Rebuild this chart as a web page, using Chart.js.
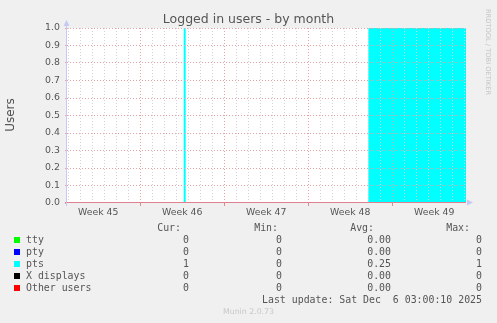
<!DOCTYPE html>
<html>
<head>
<meta charset="utf-8">
<script src="https://cdn.jsdelivr.net/npm/chart.js@4/dist/chart.umd.min.js"></script>
<style>
  body { margin: 0; background: #f0f0f0; }
  #wrap { position: relative; width: 497px; height: 323px; overflow: hidden; }
  #chart { position: absolute; left: 0; top: 0; }
  .t { position: absolute; white-space: pre; font-family: "DejaVu Sans", sans-serif; }
  .m { position: absolute; white-space: pre; font-family: "DejaVu Sans Mono", monospace; font-size: 9.9px; color: #555; line-height: 12px; }
  .r { text-align: right; }
  .sw { position: absolute; width: 6px; height: 6px; }
</style>
</head>
<body>
<div id="wrap">
  <canvas id="chart" width="497" height="323"></canvas>
  <div class="t" style="left:0;width:497px;top:11px;text-align:center;font-size:12.5px;color:#555;">Logged in users - by month</div>
  <div class="t" style="left:-10px;top:108px;width:40px;text-align:center;font-size:12px;color:#555;transform:rotate(-90deg);">Users</div>
  <div class="t" style="left:438px;top:48px;width:100px;text-align:center;font-size:6.7px;color:#c4c4c4;transform:rotate(90deg);">RRDTOOL / TOBI OETIKER</div>
  <div class="t" style="left:0;width:497px;top:307px;text-align:center;font-size:7.8px;color:#c8c8c8;">Munin 2.0.73</div>
  <div id="legend"></div>
</div>
<script>
// data (x = days relative to the start of week 46)
const weekLabels = ["Week 45", "Week 46", "Week 47", "Week 48", "Week 49"];
const weekLabelPos = [-3.5, 3.5, 10.5, 17.5, 24.5];
const timeDays = [-6.1, 3.625, 3.79, 19.01, 27.15];
const ttyValues = [0, 0, 0, 0, 0];
const ptyValues = [0, 0, 0, 0, 0];
const ptsValues = [0, 1, 0, 1, 1];
const xValues = [0, 0, 0, 0, 0];
const otherValues = [0, 0, 0, 0, 0];
const yTicks = [0, 0.1, 0.2, 0.3, 0.4, 0.5, 0.6, 0.7, 0.8, 0.9, 1.0];

// legend table
const seriesNames = ["tty", "pty", "pts", "X displays", "Other users"];
const curValues = ["0", "0", "1", "0", "0"];
const minValues = ["0", "0", "0", "0", "0"];
const avgValues = ["0.00", "0.00", "0.25", "0.00", "0.00"];
const maxValues = ["0", "0", "1", "0", "0"];
const lastUpdate = "Last update: Sat Dec  6 03:00:10 2025";

// styles
const seriesColors = ["#00ff00", "#0000ff", "#00ffff", "#000000", "#ff0000"];
const majorGrid = "#e6a3a3";
const minorGrid = "#d2d2d2";
const axisBlue = "#c8c8f4";
const zeroLine = "#e0808e";

const toPoints = (vals) => vals.map((v, i) => ({ x: timeDays[i], y: v }));
const seriesValues = [ttyValues, ptyValues, ptsValues, xValues, otherValues];

const backdrop = {
  id: "backdrop",
  beforeDraw(chart) {
    const { ctx, chartArea: a } = chart;
    ctx.save();
    ctx.fillStyle = "#ffffff";
    ctx.fillRect(a.left, a.top, a.right - a.left, a.bottom - a.top);
    ctx.restore();
  },
  afterDraw(chart) {
    const { ctx, chartArea: a } = chart;
    ctx.save();
    ctx.lineWidth = 1;
    // zero line
    ctx.strokeStyle = zeroLine;
    ctx.beginPath();
    ctx.moveTo(a.left - 2, a.bottom - 0.5);
    ctx.lineTo(a.right, a.bottom - 0.5);
    ctx.stroke();
    // y axis line and arrows
    ctx.fillStyle = axisBlue;
    ctx.strokeStyle = axisBlue;
    ctx.beginPath();
    ctx.moveTo(a.left - 0.5, a.bottom + 3);
    ctx.lineTo(a.left - 0.5, a.top - 3);
    ctx.stroke();
    ctx.beginPath();
    ctx.moveTo(a.left - 3.5, a.top - 2);
    ctx.lineTo(a.left + 2.5, a.top - 2);
    ctx.lineTo(a.left - 0.5, a.top - 8);
    ctx.closePath();
    ctx.fill();
    ctx.beginPath();
    ctx.moveTo(a.right + 1, a.bottom - 3.5);
    ctx.lineTo(a.right + 1, a.bottom + 2.5);
    ctx.lineTo(a.right + 7, a.bottom - 0.5);
    ctx.closePath();
    ctx.fill();
    ctx.restore();
  },
};

new Chart(document.getElementById("chart"), {
  type: "line",
  data: {
    datasets: seriesNames.map((name, i) => ({
      label: name,
      data: toPoints(seriesValues[i]),
      stepped: "before",
      fill: "origin",
      backgroundColor: seriesColors[i],
      borderColor: seriesColors[i],
      borderWidth: 0,
      pointRadius: 0,
    })),
  },
  options: {
    responsive: false,
    animation: false,
    layout: { padding: { top: 28, right: 31, bottom: 100, left: 0 } },
    plugins: { legend: { display: false }, tooltip: { enabled: false } },
    scales: {
      x: {
        type: "linear",
        min: timeDays[0],
        max: timeDays[timeDays.length - 1],
        afterBuildTicks: (scale) => {
          const ticks = [];
          for (let d = -6; d <= 27; d++) ticks.push({ value: d });
          weekLabelPos.forEach((p) => ticks.push({ value: p }));
          scale.ticks = ticks.sort((a, b) => a.value - b.value);
        },
        afterFit: (scale) => { scale.height = 20; },
        ticks: {
          autoSkip: false,
          maxRotation: 0,
          padding: 1,
          color: "#555",
          font: { family: "DejaVu Sans", size: 9.33 },
          callback: (v) => {
            const i = weekLabelPos.indexOf(v);
            return i >= 0 ? weekLabels[i] : "";
          },
        },
        grid: {
          z: 1,
          tickLength: 3,
          color: (c) => {
            const v = c.tick ? c.tick.value : 0;
            if (!Number.isInteger(v)) return "rgba(0,0,0,0)";
            return v % 7 === 0 ? majorGrid : minorGrid;
          },
          tickColor: (c) => {
            const v = c.tick ? c.tick.value : 1;
            return Number.isInteger(v) && v % 7 === 0 ? "#e08a8a" : "rgba(0,0,0,0)";
          },
        },
        border: { display: false, dash: [1, 2] },
      },
      y: {
        min: 0,
        max: 1,
        afterBuildTicks: (scale) => { scale.ticks = yTicks.map((v) => ({ value: v })); },
        afterFit: (scale) => { scale.width = 67; },
        ticks: {
          padding: 5,
          color: "#555",
          font: { family: "DejaVu Sans", size: 9.4 },
          callback: (v) => v.toFixed(1),
        },
        grid: {
          z: 1,
          tickLength: 2,
          color: (c) => (c.tick && c.tick.value === 0 ? "rgba(0,0,0,0)" : majorGrid),
          tickColor: majorGrid,
        },
        border: { display: false, dash: [1, 2] },
      },
    },
  },
  plugins: [backdrop],
});

// legend rows below the graph
const legend = document.getElementById("legend");
const cell = (text, right, top, width) => {
  const d = document.createElement("div");
  d.className = "m r";
  d.style.left = right - width + "px";
  d.style.width = width + "px";
  d.style.top = top + "px";
  d.textContent = text;
  legend.appendChild(d);
};
const headTop = 222;
cell("Cur:", 181, headTop, 40);
cell("Min:", 278, headTop, 40);
cell("Avg:", 374, headTop, 40);
cell("Max:", 470, headTop, 40);
seriesNames.forEach((name, i) => {
  const top = headTop + 12 * (i + 1);
  const sw = document.createElement("div");
  sw.className = "sw";
  sw.style.left = "14px";
  sw.style.top = top + 3 + "px";
  sw.style.background = seriesColors[i];
  legend.appendChild(sw);
  const n = document.createElement("div");
  n.className = "m";
  n.style.left = "26px";
  n.style.top = top + "px";
  n.textContent = name;
  legend.appendChild(n);
  cell(curValues[i], 189, top, 40);
  cell(minValues[i], 282, top, 40);
  cell(avgValues[i], 391, top, 40);
  cell(maxValues[i], 482, top, 40);
});
cell(lastUpdate, 482, headTop + 12 * 6, 240);
</script>
</body>
</html>
